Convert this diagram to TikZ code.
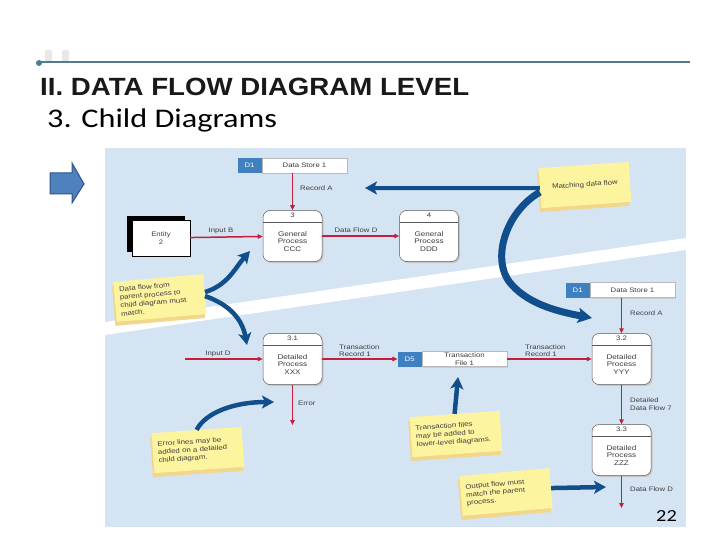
\documentclass[tikz,border=0pt]{standalone}
\usepackage{fontspec}
\usepackage{tikz}
\usetikzlibrary{arrows.meta, positioning, calc, shadows}
\newfontfamily\dfdfont[FakeStretch=1.2]{Liberation Sans}
\newfontfamily\headfont[FakeStretch=1.11]{Liberation Sans}
\newfontfamily\subfont[FakeStretch=1.2]{Carlito}
\definecolor{cPanel}{RGB}{213,228,243}
\definecolor{cFlow}{RGB}{196,30,58}
\definecolor{cHint}{RGB}{16,79,140}
\definecolor{cStore}{RGB}{62,128,192}
\definecolor{cNote}{RGB}{253,244,160}
\definecolor{cNoteShade}{RGB}{242,214,140}
\definecolor{cRule}{RGB}{77,125,145}
\definecolor{cIcon}{RGB}{79,129,189}
\definecolor{cIconEdge}{RGB}{47,82,143}
\definecolor{cText}{RGB}{60,60,60}
\tikzset{
	% processes and stores
	proc/.style     ={rectangle, rounded corners=7bp, draw=gray!70!black, line width=0.5bp, fill=white, minimum width=59bp, minimum height=51bp, inner sep=0pt,
	                  general shadow={fill=gray!45, shadow xshift=1.5bp, shadow yshift=-1.5bp},
	                  path picture={\draw[gray!70!black, line width=0.5bp] ([yshift=-12bp]path picture bounding box.north west) -- ([yshift=-12bp]path picture bounding box.north east);}},
	procno/.style   ={anchor=north, inner sep=0pt, yshift=-2.5bp, text=cText},
	procbody/.style ={align=center, inner sep=0pt, yshift=-5.5bp, text=cText, font=\dfdfont\fontsize{6.8}{7.6}\selectfont},
	storebox/.style ={rectangle, draw=gray!55, line width=0.4bp, fill=white, minimum width=85bp, minimum height=15bp, inner sep=0pt, align=center, text=cText,
	                  general shadow={fill=gray!40, shadow xshift=1bp, shadow yshift=-1bp}},
	storeid/.style  ={rectangle, fill=cStore, text=white, minimum width=24bp, minimum height=15bp, inner sep=0pt, anchor=east},
	entity/.style   ={rectangle, draw=black, line width=0.4bp, fill=white, minimum width=58bp, minimum height=36bp, align=center, text=cText,
	                  general shadow={fill=black, shadow xshift=-5bp, shadow yshift=4bp}},
	flowlbl/.style  ={inner sep=1bp, align=left, text=cText},
	flow/.style     ={-{Triangle[length=5bp, width=4.5bp]}, line width=1.5bp, cFlow},
	% sticky notes
	note/.style     ={rectangle, fill=cNote, minimum width=90bp, minimum height=40bp, text width=80bp, align=left, inner sep=4bp, text=cText, rotate=4,
	                  font=\dfdfont\fontsize{6.6}{8.2}\selectfont,
	                  general shadow={fill=cNoteShade, shadow xshift=-1.5bp, shadow yshift=-4bp}},
	hint/.style     ={-{Stealth[length=12bp, width=13bp, inset=3bp]}, line width=4.5bp, cHint},
}

\begin{document}
\begin{tikzpicture}[x=1bp, y=-1bp, font=\dfdfont\fontsize{6.5}{7.5}\selectfont]
	\useasboundingbox (0,0) rectangle (720,540);
	\fill[white] (0,0) rectangle (720,540);
	% slide header
	\fill[gray!18, rounded corners=1.5bp] (45,50) rectangle (52,62);
	\fill[gray!18, rounded corners=1.5bp] (62,50) rectangle (69,62);
	\draw[cRule, line width=2bp] (39,62.5) -- (690,62.5);
	\fill[cRule] (39,63) circle (3bp);
	\node[anchor=base west, inner sep=0pt, text=black!90] (title) at (40,96) {\headfont\bfseries\fontsize{25}{30}\selectfont II. DATA FLOW DIAGRAM LEVEL};
	\node[anchor=base west, inner sep=0pt] (subtitle) at (47,128) {\subfont\fontsize{27}{32}\selectfont 3. Child Diagrams};
	\filldraw[fill=cIcon, draw=cIconEdge, line width=1bp] (50,173) -- (72,173) -- (72,163) -- (84,184) -- (72,203) -- (72,194) -- (50,194) -- cycle;
	% panel
	\fill[cPanel] (105,148) rectangle (686,527);
	\fill[white] (105,322) -- (686,238) -- (686,250) -- (105,335) -- cycle;
	% parent diagram
	\node[storebox] (ds1a) at (304.5,165.5) {Data Store 1};
	\node[storeid] (ds1aid) at (ds1a.west) {D1};
	\node[entity] (e2) at (161,238) {Entity\\2};
	\node[proc, label={[procno]north:3}, label={[procbody]center:General\\Process\\CCC}] (p3) at (292.5,236) {};
	\node[proc, label={[procno]north:4}, label={[procbody]center:General\\Process\\DDD}] (p4) at (429,236) {};
	\draw[flow] (ds1a.south -| p3.north) -- (p3.north);
	\draw[flow] (e2) -- (p3);
	\draw[flow] (p3) -- (p4);
	\node[flowlbl, anchor=west] (lRecA) at (299,188) {Record A};
	\node[flowlbl, anchor=base] (lInB) at (221,233) {Input B};
	\node[flowlbl, anchor=base] (lDfD) at (356,233) {Data Flow D};
	% child diagram
	\node[storebox] (ds1b) at (632.5,290) {Data Store 1};
	\node[storeid] (ds1bid) at (ds1b.west) {D1};
	\node[storebox] (ds5) at (464.5,359) {Transaction\\File 1};
	\node[storeid] (ds5id) at (ds5.west) {D5};
	\node[proc, label={[procno]north:3.1}, label={[procbody]center:Detailed\\Process\\XXX}] (p31) at (292.5,359) {};
	\node[proc, label={[procno]north:3.2}, label={[procbody]center:Detailed\\Process\\YYY}] (p32) at (621.5,359) {};
	\node[proc, label={[procno]north:3.3}, label={[procbody]center:Detailed\\Process\\ZZZ}] (p33) at (621.5,450) {};
	\coordinate (inD) at (185,359);
	\coordinate (errEnd) at (292.5,425);
	\coordinate (dfdEnd) at (621.5,508);
	\draw[flow] (inD) -- (p31);
	\draw[flow] (p31) -- (ds5id);
	\draw[flow] (ds5) -- (p32);
	\draw[flow] (ds1b.south -| p32.north) -- (p32.north);
	\draw[flow] (p32) -- (p33);
	\draw[flow] (p31) -- (errEnd);
	\draw[flow] (p33) -- (dfdEnd);
	\node[flowlbl, anchor=base] (lInD) at (218,355) {Input D};
	\node[flowlbl, anchor=south west] (lTr1) at (338,358) {Transaction\\Record 1};
	\node[flowlbl, anchor=south west] (lTr2) at (524,358) {Transaction\\Record 1};
	\node[flowlbl, anchor=west] (lRecA2) at (629,313) {Record A};
	\node[flowlbl, anchor=west] (lErr) at (297,403) {Error};
	\node[flowlbl, anchor=west] (lDdf7) at (629,404) {Detailed\\Data Flow 7};
	\node[flowlbl, anchor=west] (lDfD2) at (629,489) {Data Flow D};
	% sticky notes
	\node[note, align=center] (mnote) at (585,185) {Matching data flow};
	\node[note, rotate=1] (pnote) at (160,298) {Data flow from\\parent process to\\child diagram must\\match.};
	\node[note] (enote) at (198,450) {Error lines may be\\added on a detailed\\child diagram.};
	\node[note] (tnote) at (456,434) {Transaction files\\may be added to\\lower-level diagrams.};
	\node[note, rotate=1] (onote) at (506,492) {Output flow must\\match the parent\\process.};
	\coordinate (mTip) at (365,188);
	\coordinate (mCurveTip) at (592,318);
	\coordinate (upTip) at (250,251);
	\coordinate (downTip) at (247,345);
	\coordinate (errTip) at (274,402);
	\coordinate (tfTip) at (458,377);
	\coordinate (ofTip) at (606,487);
	\draw[hint, line width=4bp] (mnote.west) -- (mTip);
	\draw[hint, line width=7bp, -{Stealth[length=14bp, width=15bp, inset=3bp]}] ([yshift=-4bp]mnote.west) .. controls (505,212) and (490,262) .. (512,285) .. controls (530,305) and (560,312) .. (mCurveTip);
	\draw[hint] ([yshift=2bp]pnote.east) .. controls (228,285) and (235,268) .. (upTip);
	\draw[hint] ([yshift=-2bp]pnote.east) .. controls (228,304) and (242,318) .. (downTip);
	\draw[hint] (enote.north) .. controls (206,412) and (235,402) .. (errTip);
	\draw[hint] (tnote.north) -- (tfTip);
	\draw[hint] (onote.east) -- (ofTip);
	% page number
	\node[anchor=base east, inner sep=0pt] (pageno) at (677,521) {\subfont\fontsize{17}{20}\selectfont 22};
\end{tikzpicture}
\end{document}
